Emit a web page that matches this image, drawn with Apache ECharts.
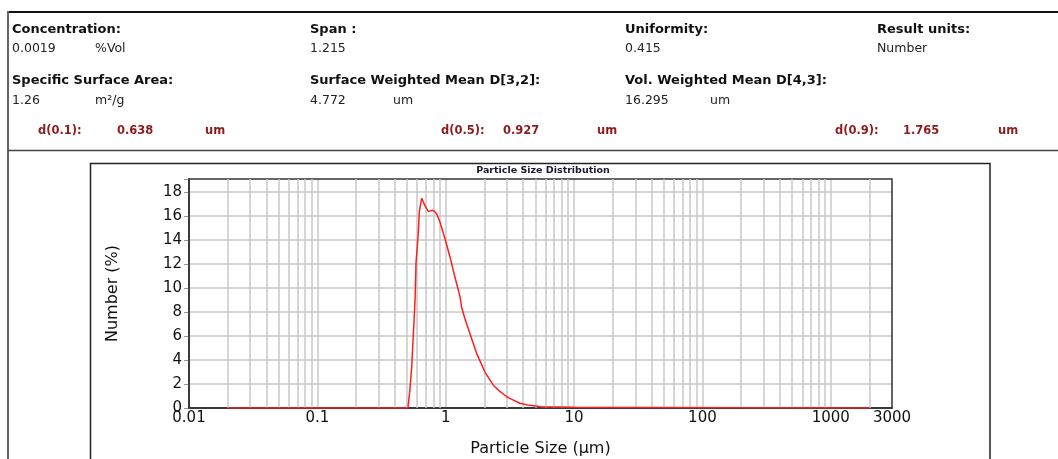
<!DOCTYPE html>
<html>
<head>
<meta charset="utf-8">
<script src="https://cdn.jsdelivr.net/npm/echarts@6/dist/echarts.min.js"></script>
<style>
html,body{margin:0;padding:0;background:#fff;}
#c{width:1058px;height:459px;}
</style>
</head>
<body>
<div id="c"></div>
<script>
// ---- data ----
const sizes  = [0.02, 0.508, 0.515, 0.527, 0.543, 0.56, 0.577, 0.587, 0.612, 0.623, 0.65, 0.669, 0.687, 0.731, 0.8, 0.85, 0.903, 0.988, 1.08, 1.181, 1.292, 1.33, 1.406, 1.546, 1.735, 2.02, 2.35, 2.63, 2.99, 3.16, 3.78, 4.5, 5.56, 10, 20, 34, 35, 2000];
const values = [0, 0, 0.6, 1.6, 3.4, 6.2, 9.0, 12.1, 14.6, 16.4, 17.5, 17.2, 16.9, 16.4, 16.5, 16.2, 15.5, 14.1, 12.6, 10.9, 9.3, 8.4, 7.5, 6.2, 4.6, 3.0, 1.9, 1.4, 0.94, 0.8, 0.4, 0.22, 0.1, 0.06, 0.05, 0.05, 0, 0];

const xMin = 0.01, xMax = 3000;
const yMin = 0, yMax = 19.1, yStep = 2;

const chartTitle = 'Particle Size Distribution';
const xName = 'Particle Size (µm)';
const yName = 'Number (%)';

// header texts: [text, x, kind]
const headerRow1 = [['Concentration:',12,'b'],['Span :',310,'b'],['Uniformity:',625,'b'],['Result units:',877,'b']];
const headerRow2 = [['0.0019',12,'r'],['%Vol',95,'r'],['1.215',310,'r'],['0.415',625,'r'],['Number',877,'r']];
const headerRow3 = [['Specific Surface Area:',12,'b'],['Surface Weighted Mean D[3,2]:',310,'b'],['Vol. Weighted Mean D[4,3]:',625,'b']];
const headerRow4 = [['1.26',12,'r'],['m²/g',95,'r'],['4.772',310,'r'],['um',393,'r'],['16.295',625,'r'],['um',710,'r']];
const headerRow5 = [['d(0.1):',38,'d'],['0.638',117,'d'],['um',205,'d'],['d(0.5):',441,'d'],['0.927',503,'d'],['um',597,'d'],['d(0.9):',835,'d'],['1.765',903,'d'],['um',998,'d']];

// minor log grid positions (2..9 within each decade)
const minors = [];
for (let d = xMin; d < xMax; d *= 10) {
  for (let m = 2; m <= 9; m++) {
    const v = +(m * d).toPrecision(6);
    if (v < xMax) minors.push(v);
  }
}

const fonts = {
  b: {font: 'bold 13px "DejaVu Sans"', fill: '#111'},
  r: {font: '12.5px "DejaVu Sans"', fill: '#222'},
  d: {font: 'bold 11.5px "DejaVu Sans"', fill: '#8e1b1b'}
};
const graphics = [];
function addRow(row, y) {
  row.forEach(([t, x, k]) => {
    graphics.push({type: 'text', silent: true, style: {text: t, x: x, y: y, font: fonts[k].font, fill: fonts[k].fill, verticalAlign: 'middle', align: 'left'}});
  });
}
addRow(headerRow1, 29.5);
addRow(headerRow2, 49);
addRow(headerRow3, 81);
addRow(headerRow4, 100.5);
addRow(headerRow5, 131);
// frames
graphics.push({type: 'line', silent: true, shape: {x1: 8, y1: 12, x2: 1058, y2: 12}, style: {stroke: '#111', lineWidth: 2}});
graphics.push({type: 'line', silent: true, shape: {x1: 8, y1: 11, x2: 8, y2: 459}, style: {stroke: '#666', lineWidth: 2}});
graphics.push({type: 'line', silent: true, shape: {x1: 8, y1: 150.5, x2: 1058, y2: 150.5}, style: {stroke: '#444', lineWidth: 1.5}});
graphics.push({type: 'rect', silent: true, shape: {x: 90.5, y: 163.5, width: 899.5, height: 320}, style: {stroke: '#222', lineWidth: 1.5, fill: null}});
graphics.push({type: 'text', silent: true, style: {text: chartTitle, x: 543, y: 171, font: 'bold 9.5px "DejaVu Sans"', fill: '#1a1a2e', align: 'center', verticalAlign: 'middle'}});

const chart = echarts.init(document.getElementById('c'), null, {renderer: 'canvas'});
chart.setOption({
  animation: false,
  backgroundColor: '#fff',
  graphic: graphics,
  grid: {left: 189, right: 166, top: 179, bottom: 51, show: true, borderColor: '#333', borderWidth: 1.5, backgroundColor: 'transparent', z: 3},
  xAxis: {
    type: 'log', logBase: 10, min: xMin, max: xMax,
    name: xName, nameLocation: 'middle', nameGap: 33,
    nameTextStyle: {fontFamily: 'DejaVu Sans', fontSize: 16, color: '#111'},
    axisLine: {lineStyle: {color: '#222', width: 1.5}},
    axisTick: {show: false},
    axisLabel: {margin: 3, fontFamily: 'DejaVu Sans', fontSize: 15, color: '#111', showMaxLabel: true, showMinLabel: true,
      formatter: v => String(+(+v).toPrecision(6))},
    splitLine: {show: true, showMaxLine: false, lineStyle: {color: '#c8c8c8', width: 1.5}}
  },
  yAxis: {
    type: 'value', min: yMin, max: yMax, interval: yStep,
    name: yName, nameLocation: 'middle', nameGap: 68,
    nameTextStyle: {fontFamily: 'DejaVu Sans', fontSize: 16, color: '#111'},
    axisLine: {show: true, lineStyle: {color: '#222', width: 1.5}},
    axisTick: {show: true, length: 5, lineStyle: {color: '#999'}},
    axisLabel: {margin: 7, fontFamily: 'DejaVu Sans', fontSize: 15, color: '#111',
      formatter: v => (Math.abs(v / yStep - Math.round(v / yStep)) < 1e-6 ? String(Math.round(v)) : '')},
    splitLine: {show: true, showMaxLine: false, lineStyle: {color: '#c8c8c8', width: 1.5}}
  },
  series: [
    {
      type: 'line', data: [], z: 1, silent: true,
      markLine: {silent: true, symbol: ['none', 'none'], label: {show: false}, animation: false,
        lineStyle: {color: '#c8c8c8', width: 1.5, type: 'solid'},
        data: minors.map(v => ({xAxis: v}))}
    },
    {
      type: 'line', z: 5, showSymbol: false, silent: true,
      data: sizes.map((s, i) => [s, values[i]]),
      lineStyle: {color: '#ff1e1e', width: 1.5},
      itemStyle: {color: '#ff1e1e'}
    }
  ]
});
</script>
</body>
</html>
